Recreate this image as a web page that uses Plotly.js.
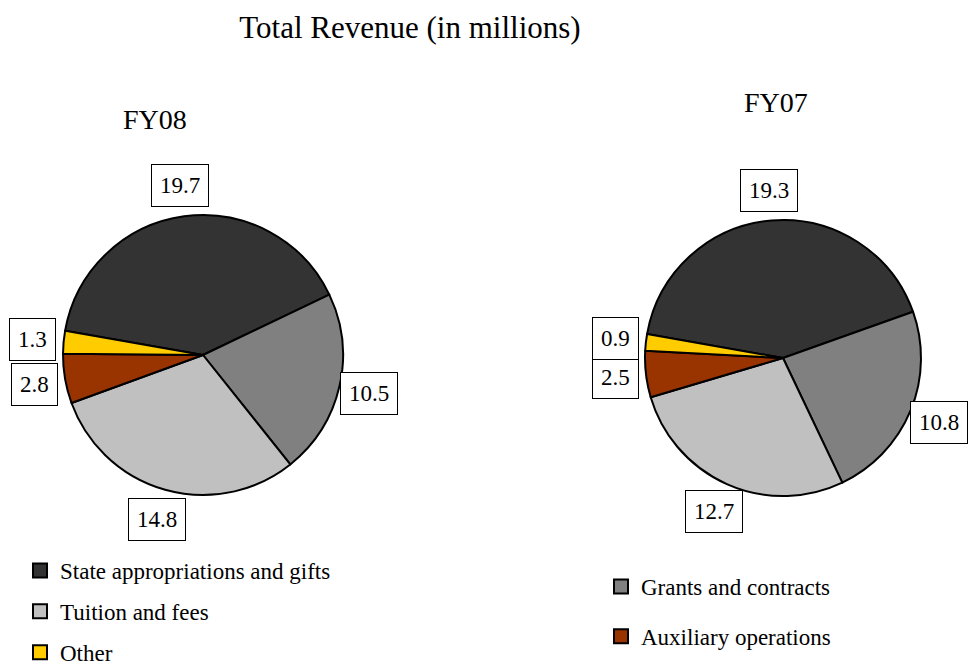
<!DOCTYPE html>
<html>
<head>
<meta charset="utf-8">
<script src="https://cdn.plot.ly/plotly-3.0.1.min.js"></script>
<style>html,body{margin:0;padding:0;background:#fff;}#chart{width:970px;height:669px;}</style>
</head>
<body>
<div id="chart"></div>
<script>
// ---- data ----
const categories = ["State appropriations and gifts", "Grants and contracts", "Tuition and fees", "Auxiliary operations", "Other"];
const fy08Values = [19.7, 10.5, 14.8, 2.8, 1.3];
const fy07Values = [19.3, 10.8, 12.7, 2.5, 0.9];
const sliceColors = ["#333333", "#808080", "#c0c0c0", "#993300", "#ffcc00"];
const legendLeft = ["State appropriations and gifts", "Tuition and fees", "Other"];
const legendRight = ["Grants and contracts", "Auxiliary operations"];

const W = 970, H = 669;
const FONT = "'Liberation Serif'";
const ROT = -80;

function pieSpec(cx, cy, r) {
  return {cx: cx, cy: cy, r: r,
    domain: {x: [(cx - r) / W, (cx + r) / W], y: [1 - (cy + r) / H, 1 - (cy - r) / H]}};
}
const pies = [
  {name: "FY08", values: fy08Values, spec: pieSpec(203, 355, 140)},
  {name: "FY07", values: fy07Values, spec: pieSpec(783, 358, 138)}
];

const traces = [];
const annotations = [];
pies.forEach(p => {
  traces.push({
    type: "pie", labels: categories, values: p.values, sort: false,
    direction: "clockwise", rotation: ROT, textinfo: "none", hoverinfo: "label+value",
    marker: {colors: sliceColors, line: {color: "#000", width: 2}},
    domain: p.spec.domain, showlegend: false
  });
  // boxed value labels positioned from slice mid-angles
  const total = p.values.reduce((a, b) => a + b, 0);
  let acc = 0;
  p.values.forEach(v => {
    const mid = (ROT + (acc + v / 2) / total * 360) * Math.PI / 180;
    acc += v;
    const R = p.spec.r * 1.22;
    const px = p.spec.cx + R * Math.sin(mid);
    const py = p.spec.cy - R * Math.cos(mid);
    annotations.push({
      xref: "paper", yref: "paper", x: px / W, y: 1 - py / H,
      xanchor: "center", yanchor: "middle", showarrow: false,
      text: v.toFixed(1), font: {family: FONT, size: 23, color: "#000"},
      bordercolor: "#000", borderwidth: 1, borderpad: 8, bgcolor: "#fff"
    });
  });
});
annotations.push({xref: "paper", yref: "paper", x: 155 / W, y: 1 - 120 / H, xanchor: "center", yanchor: "middle",
  showarrow: false, text: "FY08", font: {family: FONT, size: 28, color: "#000"}});
annotations.push({xref: "paper", yref: "paper", x: 776 / W, y: 1 - 103 / H, xanchor: "center", yanchor: "middle",
  showarrow: false, text: "FY07", font: {family: FONT, size: 28, color: "#000"}});

// legend entries
categories.forEach((c, i) => {
  const inLeft = legendLeft.indexOf(c) >= 0;
  traces.push({
    type: "scatter", mode: "markers", x: [null], y: [null], name: c,
    legend: inLeft ? "legend" : "legend2", legendgroup: c,
    legendrank: inLeft ? legendLeft.indexOf(c) : legendRight.indexOf(c),
    marker: {symbol: "square", size: 14, color: sliceColors[i], line: {color: "#000", width: 2}},
    hoverinfo: "skip"
  });
});

const layout = {
  width: W, height: H, margin: {l: 0, r: 0, t: 0, b: 0, autoexpand: false},
  paper_bgcolor: "#fff", plot_bgcolor: "#fff",
  title: {text: "Total Revenue (in millions)", x: 410 / W, xanchor: "center", y: 1 - 27 / H, yanchor: "middle",
    font: {family: FONT, size: 31, color: "#000"}},
  xaxis: {visible: false}, yaxis: {visible: false},
  showlegend: true,
  legend: {xref: "container", yref: "container", x: 20 / W, y: 1 - 549 / H, xanchor: "left", yanchor: "top", bgcolor: "rgba(0,0,0,0)",
    font: {family: FONT, size: 23, color: "#000"}, traceorder: "grouped", tracegroupgap: 8, itemwidth: 30},
  legend2: {xref: "container", yref: "container", x: 601 / W, y: 1 - 565 / H, xanchor: "left", yanchor: "top", bgcolor: "rgba(0,0,0,0)",
    font: {family: FONT, size: 23, color: "#000"}, traceorder: "grouped", tracegroupgap: 17, itemwidth: 30},
  annotations: annotations
};

Plotly.newPlot("chart", traces, layout, {displayModeBar: false, staticPlot: true});
</script>
</body>
</html>
